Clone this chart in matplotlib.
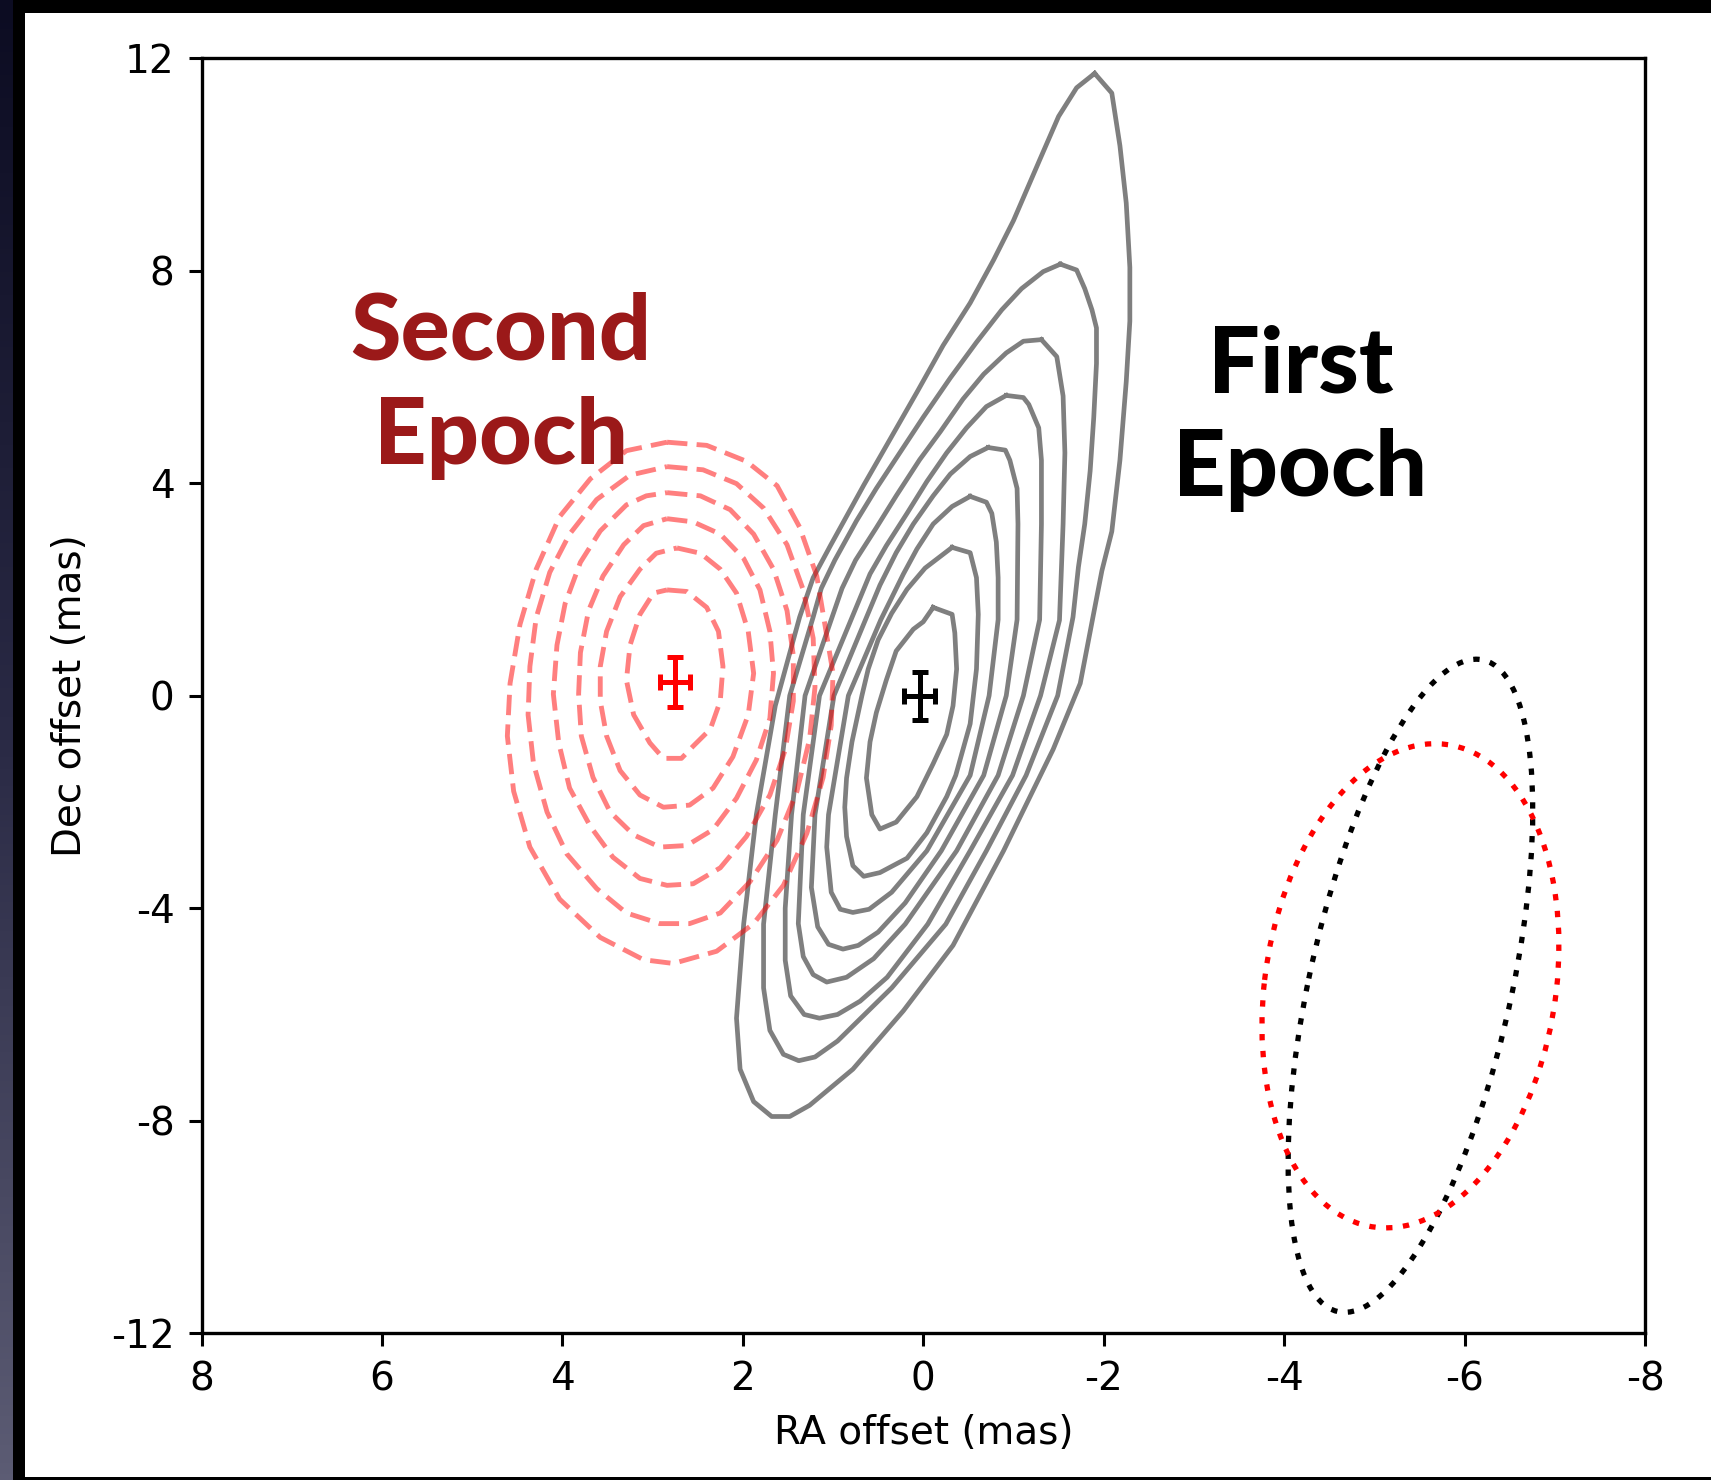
import numpy as np
import matplotlib
matplotlib.use("Agg")
import matplotlib.pyplot as plt
from matplotlib.patches import Ellipse, Rectangle

plt.rcParams['font.family'] = ['DejaVu Sans']
plt.rcParams['axes.unicode_minus'] = False

# first epoch contours (RA, Dec in mas), outermost first
first_epoch_contours = [
    [(-1.90, 11.71), (-2.09, 11.34), (-2.18, 10.35), (-2.25, 9.27), (-2.29, 8.06), (-2.29, 7.05),
     (-2.25, 5.91), (-2.18, 4.43), (-2.09, 3.09), (-1.98, 2.35), (-1.88, 1.47), (-1.74, 0.23),
     (-1.44, -1.01), (-0.89, -2.92), (-0.33, -4.70), (0.22, -5.93), (0.78, -7.03), (1.26, -7.71),
     (1.48, -7.92), (1.68, -7.92), (1.88, -7.64), (2.03, -7.03), (2.07, -6.07), (1.99, -4.29),
     (1.85, -2.24), (1.64, -0.19), (1.37, 1.48), (1.22, 2.22), (1.03, 2.82), (0.66, 3.96),
     (0.41, 4.70), (0.07, 5.71), (-0.22, 6.59), (-0.52, 7.39), (-0.78, 8.20), (-1.00, 8.94),
     (-1.29, 10.08), (-1.50, 10.90), (-1.70, 11.44), (-1.90, 11.71)],
    [(-1.52, 8.12), (-1.70, 8.01), (-1.79, 7.66), (-1.87, 7.26), (-1.92, 6.92), (-1.92, 6.25),
     (-1.89, 5.24), (-1.85, 4.23), (-1.79, 3.23), (-1.72, 2.42), (-1.66, 1.48), (-1.49, 0.00),
     (-1.14, -1.50), (-0.70, -2.92), (-0.25, -4.30), (0.35, -5.50), (0.95, -6.50), (1.20, -6.80),
     (1.38, -6.87), (1.55, -6.75), (1.70, -6.30), (1.77, -5.50), (1.77, -4.30), (1.64, -2.24),
     (1.48, 0.00), (1.22, 1.48), (1.13, 2.02), (0.98, 2.55), (0.74, 3.29), (0.52, 3.90),
     (0.26, 4.57), (0.00, 5.24), (-0.30, 5.98), (-0.59, 6.65), (-0.87, 7.26), (-1.09, 7.66),
     (-1.33, 7.98), (-1.52, 8.12)],
    [(-1.31, 6.70), (-1.48, 6.38), (-1.55, 5.64), (-1.57, 4.57), (-1.55, 3.23), (-1.51, 1.42),
     (-1.30, 0.00), (-0.99, -1.50), (-0.52, -2.92), (-0.05, -4.30), (0.40, -5.30), (0.70, -5.75),
     (0.95, -6.00), (1.15, -6.07), (1.32, -6.00), (1.47, -5.65), (1.53, -4.98), (1.53, -4.00),
     (1.46, -2.24), (1.31, 0.00), (1.02, 1.43), (0.90, 2.02), (0.75, 2.55), (0.52, 3.16),
     (0.30, 3.76), (0.04, 4.44), (-0.19, 4.97), (-0.44, 5.58), (-0.67, 6.05), (-0.92, 6.45),
     (-1.11, 6.67), (-1.31, 6.70)],
    [(-0.92, 5.65), (-1.11, 5.61), (-1.17, 5.48), (-1.28, 5.04), (-1.31, 4.43), (-1.31, 3.23),
     (-1.29, 1.43), (-1.11, 0.00), (-0.83, -1.50), (-0.37, -2.92), (0.20, -4.30), (0.55, -4.95),
     (0.85, -5.30), (1.07, -5.39), (1.22, -5.25), (1.33, -4.91), (1.385, -4.29), (1.33, -2.24),
     (1.15, 0.00), (0.80, 1.43), (0.59, 2.29), (0.41, 2.82), (0.18, 3.43), (-0.04, 4.03),
     (-0.26, 4.57), (-0.48, 5.04), (-0.70, 5.44), (-0.92, 5.65)],
    [(-0.72, 4.67), (-0.91, 4.62), (-0.96, 4.43), (-1.04, 3.90), (-1.05, 3.23), (-1.04, 1.43),
     (-0.92, 0.00), (-0.67, -1.50), (-0.20, -2.92), (0.20, -3.90), (0.50, -4.45), (0.72, -4.70),
     (0.89, -4.77), (1.05, -4.68), (1.17, -4.35), (1.24, -3.61), (1.20, -2.24), (0.99, 0.00),
     (0.64, 1.43), (0.48, 2.08), (0.30, 2.69), (0.11, 3.23), (-0.11, 3.76), (-0.30, 4.17),
     (-0.52, 4.50), (-0.72, 4.67)],
    [(-0.52, 3.75), (-0.70, 3.64), (-0.76, 3.43), (-0.81, 2.89), (-0.83, 2.22), (-0.83, 1.43),
     (-0.73, 0.00), (-0.52, -1.50), (-0.04, -2.92), (0.35, -3.70), (0.60, -4.02), (0.78, -4.08),
     (0.92, -4.02), (1.02, -3.70), (1.07, -2.85), (1.05, -2.24), (0.83, 0.00), (0.47, 1.43),
     (0.22, 2.29), (0.07, 2.76), (-0.11, 3.23), (-0.32, 3.56), (-0.52, 3.75)],
    [(-0.32, 2.79), (-0.52, 2.69), (-0.59, 2.22), (-0.61, 1.53), (-0.59, 0.50), (-0.52, -0.53),
     (-0.36, -1.50), (-0.26, -1.90), (-0.04, -2.58), (0.18, -3.06), (0.48, -3.33), (0.66, -3.40),
     (0.78, -3.20), (0.85, -2.65), (0.87, -2.10), (0.85, -1.55), (0.79, -0.87), (0.68, 0.00),
     (0.61, 0.50), (0.50, 1.05), (0.35, 1.55), (0.18, 2.00), (-0.02, 2.40), (-0.22, 2.66),
     (-0.32, 2.79)],
    [(-0.11, 1.66), (-0.32, 1.53), (-0.35, 1.18), (-0.37, 0.50), (-0.33, -0.19), (-0.26, -0.73),
     (-0.11, -1.28), (0.07, -1.90), (0.30, -2.38), (0.48, -2.51), (0.57, -2.24), (0.63, -1.55),
     (0.59, -0.87), (0.52, -0.32), (0.41, 0.29), (0.30, 0.84), (0.11, 1.25), (0.00, 1.39),
     (-0.11, 1.66)],
]

# second epoch contours, outermost first
second_epoch_contours = [
    [(2.84, 4.77), (2.40, 4.71), (1.96, 4.41), (1.62, 3.95), (1.37, 3.17), (1.18, 2.25),
     (1.00, 0.42), (1.02, -0.56), (1.11, -1.54), (1.29, -2.59), (1.55, -3.57), (1.88, -4.29),
     (2.29, -4.81), (2.77, -5.04), (3.10, -4.97), (3.58, -4.55), (4.03, -3.83), (4.36, -2.85),
     (4.54, -1.80), (4.61, -0.76), (4.58, 0.23), (4.47, 1.34), (4.29, 2.38), (4.03, 3.37),
     (3.69, 4.08), (3.29, 4.61), (2.84, 4.77)],
    [(2.84, 4.31), (2.44, 4.25), (2.07, 3.99), (1.77, 3.53), (1.51, 2.84), (1.33, 1.99),
     (1.22, 1.08), (1.20, 0.16), (1.26, -0.82), (1.40, -1.80), (1.62, -2.72), (1.92, -3.50),
     (2.25, -4.09), (2.59, -4.29), (2.92, -4.29), (3.29, -4.09), (3.62, -3.63), (3.95, -2.98),
     (4.17, -2.19), (4.32, -1.28), (4.38, -0.36), (4.36, 0.55), (4.29, 1.47), (4.14, 2.32),
     (3.92, 3.04), (3.62, 3.69), (3.25, 4.15), (2.84, 4.31)],
    [(2.84, 3.82), (2.47, 3.76), (2.14, 3.50), (1.88, 3.04), (1.66, 2.38), (1.51, 1.60),
     (1.44, 0.75), (1.44, -0.10), (1.53, -1.02), (1.70, -1.87), (1.96, -2.65), (2.25, -3.24),
     (2.55, -3.54), (2.84, -3.57), (3.14, -3.44), (3.44, -3.04), (3.69, -2.46), (3.92, -1.74),
     (4.04, -0.89), (4.10, 0.03), (4.06, 0.95), (3.97, 1.73), (3.80, 2.51), (3.58, 3.10),
     (3.29, 3.59), (3.07, 3.76), (2.84, 3.82)],
    [(2.84, 3.33), (2.55, 3.27), (2.25, 3.04), (1.99, 2.58), (1.81, 1.99), (1.70, 1.21),
     (1.66, 0.42), (1.70, -0.43), (1.85, -1.21), (2.07, -1.93), (2.33, -2.52), (2.62, -2.82),
     (2.92, -2.85), (3.21, -2.62), (3.47, -2.19), (3.66, -1.54), (3.79, -0.76), (3.82, 0.03),
     (3.80, 0.81), (3.71, 1.60), (3.55, 2.25), (3.32, 2.84), (3.10, 3.20), (2.84, 3.33)],
    [(2.73, 2.78), (2.47, 2.68), (2.25, 2.38), (2.07, 1.93), (1.94, 1.21), (1.88, 0.42),
     (1.94, -0.36), (2.11, -1.15), (2.33, -1.74), (2.59, -2.06), (2.88, -2.10), (3.14, -1.87),
     (3.36, -1.41), (3.51, -0.76), (3.58, -0.10), (3.58, 0.55), (3.51, 1.21), (3.36, 1.86),
     (3.14, 2.38), (2.96, 2.68), (2.73, 2.78)],
    [(2.84, 1.99), (2.62, 1.96), (2.40, 1.66), (2.27, 1.21), (2.22, 0.55), (2.25, -0.10),
     (2.36, -0.63), (2.55, -0.95), (2.68, -1.18), (2.88, -1.18), (3.03, -0.89), (3.21, -0.36),
     (3.29, 0.29), (3.25, 0.95), (3.14, 1.53), (2.99, 1.93), (2.84, 1.99)],
]

# best-fit positions with 1-sigma errors (mas)
first_pos = (0.04, 0.0)
first_err = (0.17, 0.45)
second_pos = (2.75, 0.25)
second_err = (0.17, 0.47)

# restoring beams: centre, width, height (mas), position angle (deg)
beam_center = (-5.40, -5.46)
first_beam = (12.38, 2.27, 97.0)
second_beam = (9.13, 3.24, 93.9)

fig = plt.figure(figsize=(17.11, 14.80), dpi=100)
fig.patch.set_facecolor('black')

# white panel and the dark strip on the left edge
fig.add_artist(Rectangle((25 / 1711, 3 / 1480), 1 - 25 / 1711, 1464 / 1480,
                         transform=fig.transFigure, facecolor='white', edgecolor='none', zorder=0))
strip = fig.add_axes([0, 0, 13 / 1711, 1])
grad = np.linspace(0, 1, 256)[:, None]
strip.imshow(grad, aspect='auto', cmap=matplotlib.colors.LinearSegmentedColormap.from_list(
    'edge', ['#0c0c22', '#2a2a45', '#5c5c74']), extent=(0, 1, 0, 1))
strip.axis('off')

ax = fig.add_axes([201.5 / 1711, 146.7 / 1480, 1443.5 / 1711, 1275.3 / 1480])

for c in first_epoch_contours:
    ra, dec = zip(*c)
    ax.plot(ra, dec, color='black', alpha=0.5, lw=3.4, solid_joinstyle='round', zorder=2)

for c in second_epoch_contours:
    ra, dec = zip(*c)
    ax.plot(ra, dec, color='red', alpha=0.5, lw=3.5, ls=(0, (4.2, 1.9)), zorder=3)

ax.errorbar(first_pos[0], first_pos[1], xerr=first_err[0], yerr=first_err[1],
            color='black', elinewidth=3.6, capsize=5.5, capthick=3.6, zorder=5)
ax.errorbar(second_pos[0], second_pos[1], xerr=second_err[0], yerr=second_err[1],
            color='red', elinewidth=3.6, capsize=5.5, capthick=3.6, zorder=5)

ax.add_patch(Ellipse(beam_center, first_beam[0], first_beam[1], angle=first_beam[2],
                     fill=False, edgecolor='black', lw=3.8, ls=(0, (1.2, 2.0)), zorder=4))
ax.add_patch(Ellipse(beam_center, second_beam[0], second_beam[1], angle=second_beam[2],
                     fill=False, edgecolor='red', lw=3.8, ls=(0, (1.2, 2.0)), zorder=4))

label_font = dict(family=['Lato', 'DejaVu Sans'], fontweight='black', fontsize=66)
ax.text(4.68, 6.32, 'Second', color='#9b1919', ha='center', va='baseline', **label_font)
ax.text(4.68, 4.36, 'Epoch', color='#9b1919', ha='center', va='baseline', **label_font)
ax.text(-4.18, 5.70, 'First', color='black', ha='center', va='baseline', **label_font)
ax.text(-4.18, 3.75, 'Epoch', color='black', ha='center', va='baseline', **label_font)

ax.set_xlim(8, -8)
ax.set_ylim(-12, 12)
ax.set_xticks(np.arange(8, -9, -2))
ax.set_yticks(np.arange(-12, 13, 4))
ax.tick_params(labelsize=28, length=9.5, width=2.2, pad=10, direction='out')
for s in ax.spines.values():
    s.set_linewidth(2.4)
ax.set_xlabel('RA offset (mas)', fontsize=28, labelpad=11)
ax.set_ylabel('Dec offset (mas)', fontsize=28, labelpad=16)

fig.savefig('out.png', dpi=100, facecolor=fig.get_facecolor())
